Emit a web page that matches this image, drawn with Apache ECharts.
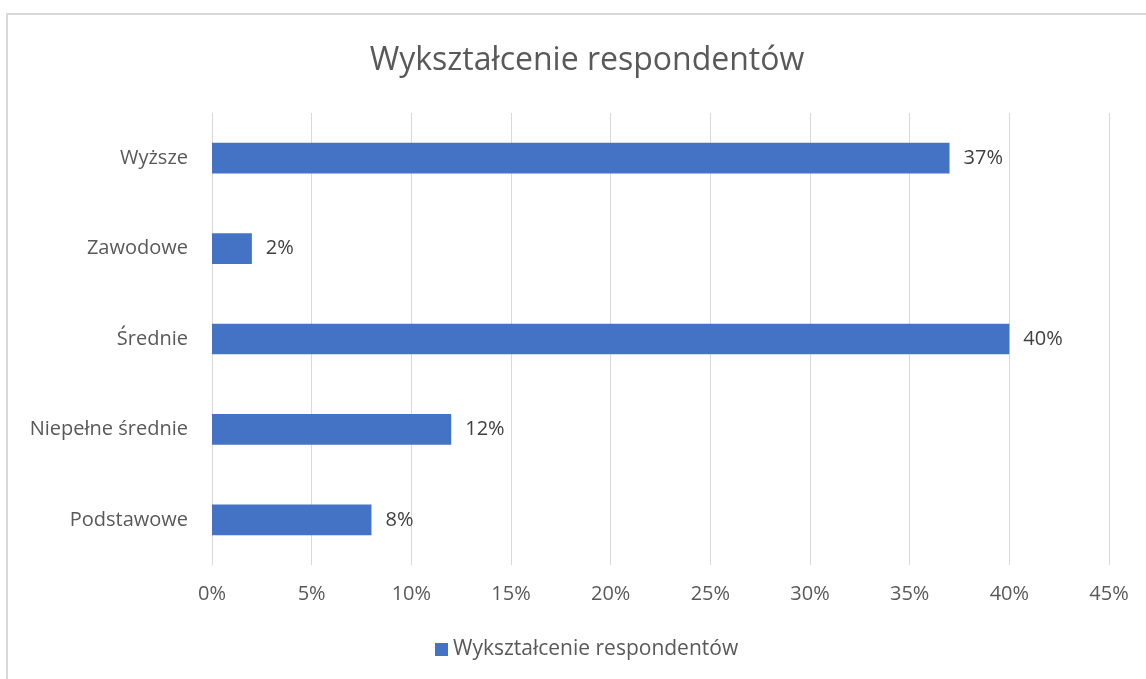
<!DOCTYPE html>
<html><head><meta charset="utf-8">
<script src="https://cdn.jsdelivr.net/npm/echarts@6/dist/echarts.min.js"></script>
<style>html,body{margin:0;padding:0;background:#fff}#c{width:1146px;height:679px}</style>
</head><body><div id="c"></div>
<script>
const categories = ['Podstawowe', 'Niepełne średnie', 'Średnie', 'Zawodowe', 'Wyższe'];
const values = [8, 12, 40, 2, 37];
const seriesName = 'Wykształcenie respondentów';
const titleText = 'Wykształcenie respondentów';
const font = 'Open Sans';
const chart = echarts.init(document.getElementById('c'));
chart.setOption({
  animation: false,
  backgroundColor: '#fff',
  graphic: [{type:'rect', shape:{x:7, y:14, width:1160, height:700}, style:{fill:'none', stroke:'#d9d9d9', lineWidth:2}, silent:true}],
  title: {text: titleText, left: 582, textAlign: 'center', top: 40, textStyle:{fontFamily:font, fontSize:32, fontWeight:'normal', color:'#595959'}},
  legend: {bottom: 14, left: 430, itemWidth: 13, itemHeight: 13, itemGap: 6, icon:'rect',
    textStyle:{fontFamily:font, fontSize:21, color:'#595959'}, data:[seriesName]},
  grid: {left: 212, right: 37, top: 113, bottom: 114, containLabel: false},
  xAxis: {type:'value', min:0, max:45, interval:5,
    axisLabel:{formatter:'{value}%', fontFamily:font, fontSize:20, color:'#595959', margin:19},
    splitLine:{lineStyle:{color:'#d9d9d9', width:1}}, axisLine:{show:false}, axisTick:{show:false}},
  yAxis: {type:'category', data:categories,
    axisLabel:{fontFamily:font, fontSize:20, color:'#595959', margin:24},
    axisLine:{lineStyle:{color:'#d9d9d9'}}, axisTick:{show:false}},
  series: [{name: seriesName, type:'bar', data: values, barWidth:'34%',
    itemStyle:{color:'#4472C4'},
    label:{show:true, position:'right', distance:14, formatter:'{c}%', fontFamily:font, fontSize:20, color:'#404040'}}]
});
</script></body></html>
